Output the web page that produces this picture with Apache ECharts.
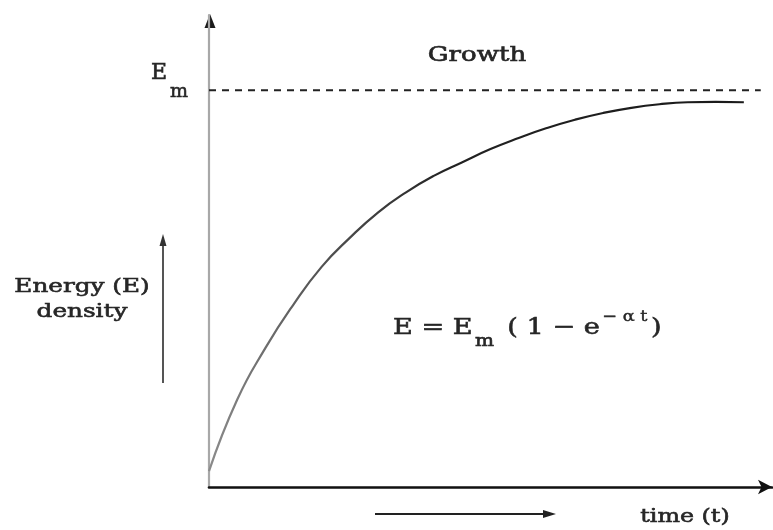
<!DOCTYPE html>
<html>
<head>
<meta charset="utf-8">
<title>Growth of energy density</title>
<script src="https://cdn.jsdelivr.net/npm/echarts@6/dist/echarts.min.js"></script>
<style>
  html, body { margin: 0; padding: 0; background: #ffffff; }
  #chart { width: 773px; height: 530px; }
</style>
</head>
<body>
<div id="chart"></div>
<script>
// Growth curve E = Em (1 - e^(-a t)), sampled at even time steps
const timeValues   = [0, 0.5, 1, 1.5, 2, 2.5, 3, 3.5, 4, 4.5, 5, 5.5, 6, 6.5, 7, 7.5, 8, 8.5, 9, 9.5];
const energyValues = [4, 22, 35, 46, 55.5, 62.8, 69.2, 74.3, 78.5, 81.9, 85.2, 88, 90.5, 92.6, 94.3, 95.6, 96.5, 97, 97.1, 97];

// Saturation level Em (dashed asymptote)
const emLevel = 100;
const emLineTime = [0, 9.8];

// Axis extents
const timeMax = 10;
const energyMax = 119;

const serif = '"DejaVu Serif", "Liberation Serif", serif';
const ink = '#262626';

const chart = echarts.init(document.getElementById('chart'), null, { renderer: 'canvas' });

chart.setOption({
  backgroundColor: '#ffffff',
  animation: false,
  grid: { left: 209, right: 1, top: 15, bottom: 43, containLabel: false },
  xAxis: {
    type: 'value', min: 0, max: timeMax,
    axisLine: {
      show: true, onZero: false,
      symbol: ['none', 'arrow'], symbolSize: [11, 14],
      lineStyle: { color: '#111', width: 2.6 }
    },
    axisTick: { show: false }, axisLabel: { show: false }, splitLine: { show: false }
  },
  yAxis: {
    type: 'value', min: 0, max: energyMax,
    axisLine: {
      show: true, onZero: false,
      symbol: ['none', 'none'],
      lineStyle: { color: '#a8a8a8', width: 2.2 }
    },
    axisTick: { show: false }, axisLabel: { show: false }, splitLine: { show: false }
  },
  series: [
    {
      name: 'Em',
      type: 'line',
      data: emLineTime.map(t => [t, emLevel]),
      showSymbol: false,
      lineStyle: { color: '#222', width: 2, type: [7, 6] },
      z: 2
    },
    {
      name: 'E',
      type: 'line',
      data: timeValues.map((t, i) => [t, energyValues[i]]),
      smooth: 0.5,
      showSymbol: false,
      lineStyle: {
        width: 2.2,
        color: new echarts.graphic.LinearGradient(0, 0, 1, 0, [
          { offset: 0, color: '#8c8c8c' },
          { offset: 0.2, color: '#555' },
          { offset: 0.45, color: '#222' },
          { offset: 1, color: '#1a1a1a' }
        ])
      },
      z: 3
    }
  ],
  graphic: [
    // Dark arrowhead on top of the vertical axis
    { type: 'polygon', shape: { points: [[210, 14], [204.5, 28], [215.5, 28]] }, style: { fill: '#1a1a1a' } },
    // Em label beside the vertical axis
    {
      type: 'text', x: 151, y: 62,
      style: {
        text: '{e|E}{m|m}',
        rich: {
          e: { fontFamily: serif, fontSize: 22, fill: ink, stroke: ink, lineWidth: 0.6, lineHeight: 40, verticalAlign: 'top' },
          m: { fontFamily: serif, fontSize: 19, fill: ink, stroke: ink, lineWidth: 0.6, lineHeight: 40, verticalAlign: 'bottom', padding: [22, 0, 0, 3] }
        }
      }
    },
    // Title
    {
      type: 'text', x: 477, y: 56, scaleX: 1.3,
      style: { text: 'Growth', font: '20px ' + serif, fill: ink, stroke: ink, lineWidth: 0.6, align: 'center', verticalAlign: 'middle' }
    },
    // Vertical axis caption
    {
      type: 'text', x: 82, y: 300, scaleX: 1.3,
      style: { text: 'Energy (E)\ndensity', font: '19px ' + serif, lineHeight: 25, fill: ink, stroke: ink, lineWidth: 0.6, align: 'center', verticalAlign: 'middle' }
    },
    // Upward arrow next to the caption
    { type: 'line', shape: { x1: 163, y1: 383, x2: 163, y2: 240 }, style: { stroke: '#555', lineWidth: 2 } },
    { type: 'polygon', shape: { points: [[163, 234], [159.5, 246], [166.5, 246]] }, style: { fill: '#333' } },
    // Formula
    {
      type: 'text', x: 393, y: 306, scaleX: 1.18,
      style: {
        text: '{a|E = E}{m|m}{a| ( 1 − e}{s|− α t}{a|)}',
        rich: {
          a: { fontFamily: serif, fontSize: 23, fill: ink, stroke: ink, lineWidth: 0.6, lineHeight: 44, verticalAlign: 'middle' },
          m: { fontFamily: serif, fontSize: 17, fill: ink, stroke: ink, lineWidth: 0.6, lineHeight: 44, verticalAlign: 'bottom', padding: [0, 4, 0, 2] },
          s: { fontFamily: serif, fontSize: 15, fill: ink, stroke: ink, lineWidth: 0.4, lineHeight: 44, verticalAlign: 'top', padding: [4, 3, 0, 2] }
        }
      }
    },
    // Time caption and its arrow
    { type: 'line', shape: { x1: 375, y1: 514, x2: 545, y2: 514 }, style: { stroke: '#222', lineWidth: 2 } },
    { type: 'polygon', shape: { points: [[556, 514], [543, 510], [543, 518]] }, style: { fill: '#222' } },
    {
      type: 'text', x: 685, y: 517, scaleX: 1.25,
      style: { text: 'time (t)', font: '19px ' + serif, fill: ink, stroke: ink, lineWidth: 0.6, align: 'center', verticalAlign: 'middle' }
    }
  ]
});
</script>
</body>
</html>
